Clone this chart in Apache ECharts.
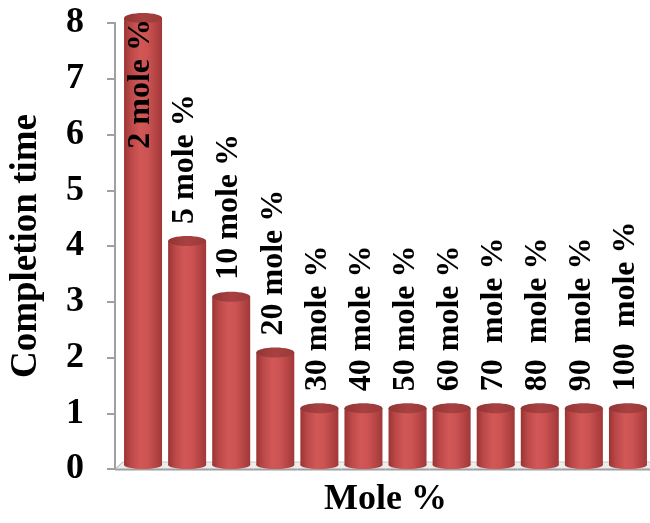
<!DOCTYPE html>
<html>
<head>
<meta charset="utf-8">
<script src="https://cdn.jsdelivr.net/npm/echarts@6/dist/echarts.min.js"></script>
<style>
  html, body { margin: 0; padding: 0; background: #fff; }
  #chart { width: 650px; height: 523px; }
</style>
</head>
<body>
<div id="chart"></div>
<script>
// Catalyst loading and the matching completion time
const categories = ['2 mole %', '5 mole %', '10 mole %', '20 mole %', '30 mole %', '40 mole %',
                    '50 mole %', '60 mole %', '70 mole %', '80 mole %', '90 mole %', '100 mole %'];
const barLabels = ['2 mole %', '5 mole %', '10 mole %', '20 mole %', '30 mole %', '40 mole %',
                   '50 mole %', '60 mole %', '70  mole %', '80  mole %', '90  mole %', '100  mole %'];
const completionTime = [8, 4, 3, 2, 1, 1, 1, 1, 1, 1, 1, 1];
const yTickLabels = ['0', '1', '2', '3', '4', '5', '6', '7', '8'];

const FONT = '"Liberation Serif", "Times New Roman", serif';
const BAR_W = 38;
const CAP_RY = 5;

const bodyFill = new echarts.graphic.LinearGradient(0, 0, 1, 0, [
  { offset: 0, color: '#9a3434' },
  { offset: 0.18, color: '#bb4848' },
  { offset: 0.42, color: '#d25757' },
  { offset: 0.62, color: '#cd5353' },
  { offset: 1, color: '#a13838' }
]);
const capFill = new echarts.graphic.LinearGradient(0, 0, 1, 0, [
  { offset: 0, color: '#933434' },
  { offset: 0.5, color: '#a84242' },
  { offset: 1, color: '#9a3838' }
]);

function renderCylinder(params, api) {
  const i = params.dataIndex;
  const cat = api.value(0);
  const val = api.value(1);
  const top = api.coord([cat, val]);
  const base = api.coord([cat, 0]);
  const band = api.size([1, 0])[0];
  const cx = top[0];
  const half = BAR_W / 2;
  const capY = top[1] - CAP_RY;
  const footY = base[1] - 4;
  const children = [];

  // floor strip under this category
  const cs = params.coordSys;
  const left = i === 0 ? cs.x - 6 : cx - band / 2;
  const right = cx + band / 2;
  children.push({
    type: 'polygon',
    shape: { points: [[left, base[1]], [right, base[1]], [right, base[1] - 7], [left + (i === 0 ? 8 : 0), base[1] - 7]] },
    style: { fill: '#ececec' }
  });
  children.push({
    type: 'line',
    shape: { x1: left + (i === 0 ? 8 : 0), y1: base[1] - 7, x2: right, y2: base[1] - 7 },
    style: { stroke: '#c8c8c8', lineWidth: 1 }
  });
  if (i === 0) {
    children.push({
      type: 'line',
      shape: { x1: left, y1: base[1], x2: left + 8, y2: base[1] - 7 },
      style: { stroke: '#b0b0b0', lineWidth: 1 }
    });
  }
  children.push({
    type: 'line',
    shape: { x1: left, y1: base[1] + 0.5, x2: right, y2: base[1] + 0.5 },
    style: { stroke: '#a0a0a0', lineWidth: 2 }
  });

  // cylinder body, rounded foot and top cap
  children.push({
    type: 'ellipse',
    shape: { cx: cx, cy: footY, rx: half, ry: CAP_RY - 1 },
    style: { fill: bodyFill }
  });
  children.push({
    type: 'rect',
    shape: { x: cx - half, y: capY, width: BAR_W, height: footY - capY },
    style: { fill: bodyFill }
  });
  children.push({
    type: 'ellipse',
    shape: { cx: cx, cy: capY, rx: half, ry: CAP_RY },
    style: { fill: capFill }
  });

  // vertical value label
  const inside = i === 0;
  children.push({
    type: 'text',
    x: cx - 2,
    y: inside ? top[1] - 4 : top[1] - 22,
    rotation: Math.PI / 2,
    style: {
      text: barLabels[i],
      font: 'bold 32px ' + FONT,
      fill: '#000',
      align: inside ? 'right' : 'left',
      verticalAlign: 'middle'
    }
  });

  return { type: 'group', children: children };
}

const chart = echarts.init(document.getElementById('chart'), null, { renderer: 'canvas' });
chart.setOption({
  animation: false,
  backgroundColor: '#fff',
  grid: { left: 121, right: 0, top: 23, bottom: 51 },
  xAxis: {
    type: 'category',
    data: categories,
    axisLine: { show: false },
    axisTick: { show: false },
    axisLabel: { show: false },
    name: 'Mole %',
    nameLocation: 'middle',
    nameGap: 13,
    nameTextStyle: { fontFamily: FONT, fontWeight: 'bold', fontSize: 36, color: '#000', verticalAlign: 'top' }
  },
  yAxis: {
    type: 'value',
    min: 0,
    max: 8,
    interval: 1,
    offset: 6,
    splitLine: { show: false },
    axisLine: { show: true, lineStyle: { color: '#a0a0a0', width: 2 } },
    axisTick: { show: true, length: 8, lineStyle: { color: '#a0a0a0', width: 2 } },
    axisLabel: {
      margin: 31,
      fontFamily: FONT, fontWeight: 'bold', fontSize: 36, color: '#000',
      formatter: function (v) { return yTickLabels[v]; }
    },
    name: 'Completion time',
    nameLocation: 'middle',
    nameGap: 70,
    nameTextStyle: { fontFamily: FONT, fontWeight: 'bold', fontSize: 37, color: '#000' }
  },
  series: [{
    type: 'custom',
    renderItem: renderCylinder,
    data: completionTime.map(function (v, i) { return [i, v]; }),
    encode: { x: 0, y: 1 },
    clip: false
  }]
});
</script>
</body>
</html>
